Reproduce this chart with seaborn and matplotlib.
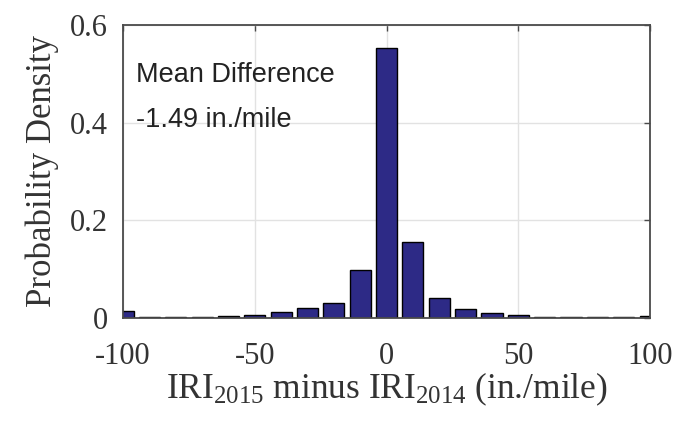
import numpy as np
import pandas as pd
import matplotlib
matplotlib.use('Agg')
import matplotlib.pyplot as plt
import seaborn as sns

# centres des classes (pas de 10 in./mile) et densites
bin_centers = [-100, -90, -80, -70, -60, -50, -40, -30, -20, -10, 0,
               10, 20, 30, 40, 50, 60, 70, 80, 90, 100]
density = [0.014, 0.002, 0.002, 0.003, 0.004, 0.007, 0.012, 0.021, 0.031, 0.098, 0.553,
           0.156, 0.040, 0.019, 0.010, 0.006, 0.003, 0.002, 0.002, 0.002, 0.004]
x_ticks = [-100, -50, 0, 50, 100]
y_ticks = [0, 0.2, 0.4, 0.6]
y_tick_labels = ['0', '0.2', '0.4', '0.6']

df = pd.DataFrame({'diff': bin_centers, 'density': density})

sns.set_style('whitegrid')
plt.rcParams['font.family'] = ['Liberation Serif', 'DejaVu Serif']
plt.rcParams['mathtext.fontset'] = 'custom'
plt.rcParams['mathtext.rm'] = 'Liberation Serif'
plt.rcParams['mathtext.it'] = 'Liberation Serif'

fig = plt.figure(figsize=(6.8, 4.3), dpi=100)
ax = fig.add_axes([0.181, 0.2605, 0.775, 0.6815])

sns.barplot(x='diff', y='density', data=df, native_scale=True, width=0.8,
            color='#2d2a86', edgecolor='black', linewidth=1.0, saturation=1, ax=ax)

ax.set_xlim(-100, 100)
ax.set_ylim(0, 0.6)
ax.set_xticks(x_ticks)
ax.set_xticklabels([str(t) for t in x_ticks])
ax.set_yticks(y_ticks)
ax.set_yticklabels(y_tick_labels)
ax.grid(True, color='#e2e2e2', linewidth=1.0)
ax.set_axisbelow(True)

for s in ax.spines.values():
    s.set_color('#4a4a4a')
    s.set_linewidth(1.3)
ax.tick_params(direction='in', length=4, width=1, color='#4a4a4a',
               top=True, right=True, labelsize=22, labelcolor='#333333')
ax.tick_params(axis='x', pad=17)
ax.tick_params(axis='y', pad=11)

ax.set_ylabel('Probability Density', fontsize=25, color='#333333', labelpad=8)
ax.set_xlabel(r'IRI$_{2015}$ minus IRI$_{2014}$ (in./mile)', fontsize=25.5,
              color='#333333', labelpad=0)

ax.text(0.025, 0.875, 'Mean Difference\n-1.49 in./mile', transform=ax.transAxes,
        fontsize=19.5, family=['Liberation Sans', 'DejaVu Sans'], color='#222222',
        va='top', ha='left', linespacing=1.95)

plt.savefig('out.png', dpi=100)
